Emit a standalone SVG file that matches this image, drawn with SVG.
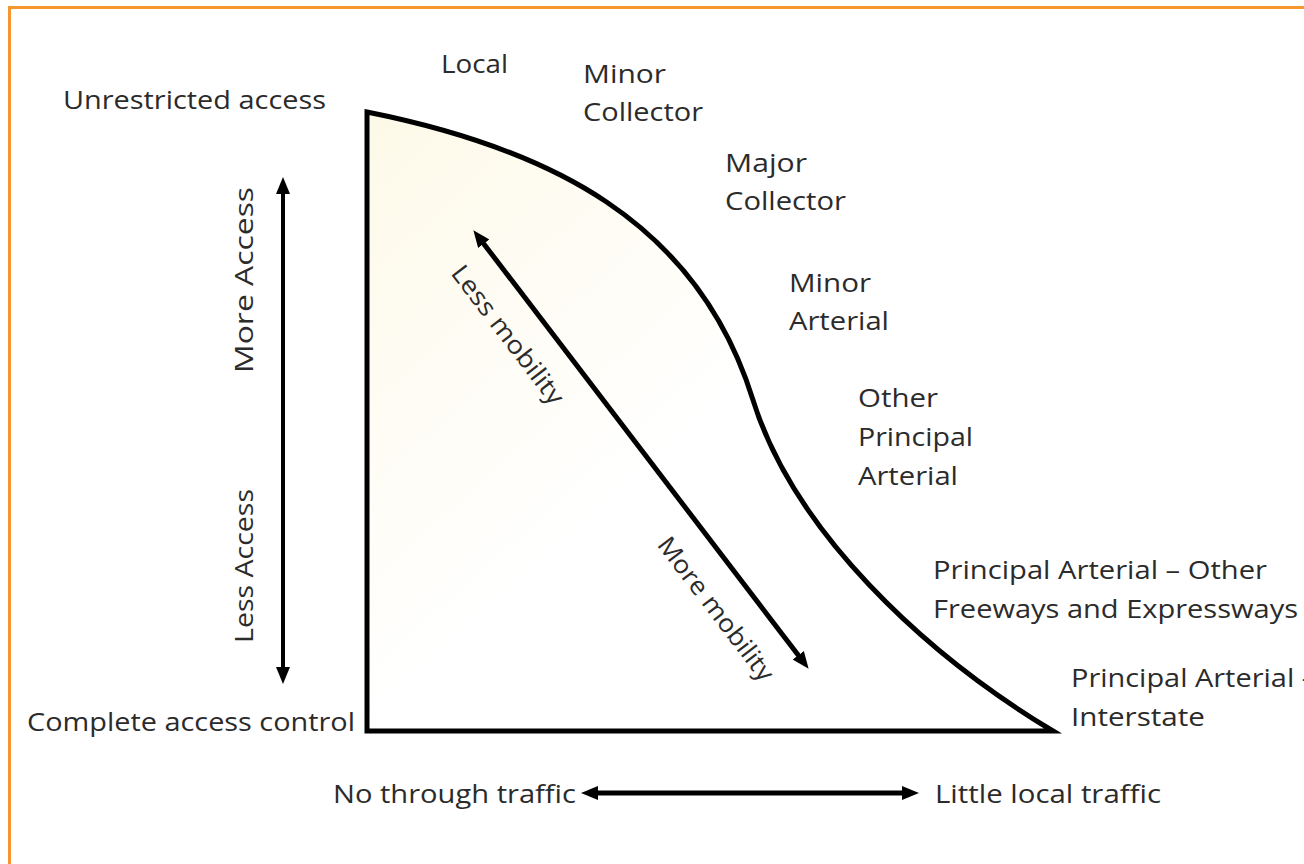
<svg xmlns="http://www.w3.org/2000/svg" width="1304" height="864" viewBox="0 0 1304 864">
  <defs>
    <style>
      .t { font-family: "Open Sans", "Liberation Sans", sans-serif; font-size: 25px; fill: #2b2b2b; }
      .ln { stroke: #000; fill: none; }
    </style>
    <linearGradient id="fillGrad" x1="0" y1="0" x2="1" y2="1">
      <stop offset="0" stop-color="#fdf9e8"/>
      <stop offset="0.5" stop-color="#ffffff"/>
      <stop offset="1" stop-color="#ffffff"/>
    </linearGradient>
    <marker id="ah" markerUnits="userSpaceOnUse" markerWidth="17" markerHeight="14" refX="1" refY="7" orient="auto-start-reverse" viewBox="0 0 17 14">
      <path d="M0,0 L17,7 L0,14 Z" fill="#000"/>
    </marker>
  </defs>

  <rect x="0" y="0" width="1304" height="864" fill="#ffffff"/>
  <rect x="9.5" y="7.5" width="1320" height="880" fill="none" stroke="#f7962e" stroke-width="3"/>

  <g id="curve-region">
    <path d="M367,112 C547,148 697.2,220 753,400 C793.3,530 923,653 1053,731 L367,731 Z" fill="url(#fillGrad)" stroke="#000" stroke-width="5" stroke-linejoin="miter"/>
  </g>

  <g id="connectors">
    <line class="ln" x1="283" y1="193" x2="283" y2="668" stroke-width="4" marker-start="url(#ah)" marker-end="url(#ah)"/>
    <line class="ln" x1="483.1" y1="242.9" x2="798.9" y2="656.1" stroke-width="5" marker-start="url(#ah)" marker-end="url(#ah)"/>
    <line class="ln" x1="597" y1="793" x2="903" y2="793" stroke-width="5" marker-start="url(#ah)" marker-end="url(#ah)"/>
  </g>

  <g id="label-unrestricted"><text class="t" x="63" y="109" textLength="263" lengthAdjust="spacingAndGlyphs">Unrestricted access</text></g>
  <g id="label-complete"><text class="t" x="27" y="731" textLength="328" lengthAdjust="spacingAndGlyphs">Complete access control</text></g>
  <g id="label-local"><text class="t" x="441" y="73" textLength="67" lengthAdjust="spacingAndGlyphs">Local</text></g>
  <g id="label-minor-collector">
    <text class="t" x="583" y="83" textLength="83" lengthAdjust="spacingAndGlyphs">Minor</text>
    <text class="t" x="583" y="121" textLength="120" lengthAdjust="spacingAndGlyphs">Collector</text>
  </g>
  <g id="label-major-collector">
    <text class="t" x="725" y="172" textLength="82" lengthAdjust="spacingAndGlyphs">Major</text>
    <text class="t" x="725" y="210" textLength="121" lengthAdjust="spacingAndGlyphs">Collector</text>
  </g>
  <g id="label-minor-arterial">
    <text class="t" x="789" y="292" textLength="82" lengthAdjust="spacingAndGlyphs">Minor</text>
    <text class="t" x="789" y="330" textLength="100" lengthAdjust="spacingAndGlyphs">Arterial</text>
  </g>
  <g id="label-other-principal">
    <text class="t" x="858" y="407" textLength="80" lengthAdjust="spacingAndGlyphs">Other</text>
    <text class="t" x="858" y="446" textLength="115" lengthAdjust="spacingAndGlyphs">Principal</text>
    <text class="t" x="858" y="485" textLength="100" lengthAdjust="spacingAndGlyphs">Arterial</text>
  </g>
  <g id="label-freeways">
    <text class="t" x="933" y="579" textLength="334" lengthAdjust="spacingAndGlyphs">Principal Arterial – Other</text>
    <text class="t" x="933" y="618" textLength="365" lengthAdjust="spacingAndGlyphs">Freeways and Expressways</text>
  </g>
  <g id="label-interstate">
    <text class="t" x="1071" y="687" textLength="240" lengthAdjust="spacingAndGlyphs">Principal Arterial -</text>
    <text class="t" x="1071" y="726" textLength="134" lengthAdjust="spacingAndGlyphs">Interstate</text>
  </g>
  <g id="label-more-access"><text class="t" transform="translate(253,280) rotate(-90)" text-anchor="middle" textLength="186" lengthAdjust="spacingAndGlyphs">More Access</text></g>
  <g id="label-less-access"><text class="t" transform="translate(253,566) rotate(-90)" text-anchor="middle" textLength="154" lengthAdjust="spacingAndGlyphs">Less Access</text></g>
  <g id="label-less-mobility"><text class="t" transform="translate(501,340) rotate(52.6)" text-anchor="middle" textLength="168" lengthAdjust="spacingAndGlyphs">Less mobility</text></g>
  <g id="label-more-mobility"><text class="t" transform="translate(709,614) rotate(52.6)" text-anchor="middle" textLength="174" lengthAdjust="spacingAndGlyphs">More mobility</text></g>
  <g id="label-no-through"><text class="t" x="333" y="803" textLength="243" lengthAdjust="spacingAndGlyphs">No through traffic</text></g>
  <g id="label-little-local"><text class="t" x="935" y="803" textLength="226" lengthAdjust="spacingAndGlyphs">Little local traffic</text></g>
</svg>
